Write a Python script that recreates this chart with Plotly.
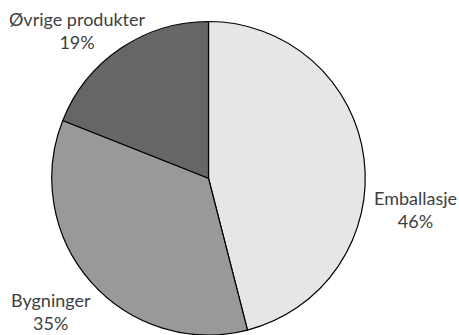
import plotly.graph_objects as go

# Share of consumption by product segment
categories = ["Emballasje", "Bygninger", "Øvrige produkter"]
shares = [46, 35, 19]
colors = ["#e6e6e6", "#999999", "#666666"]

W, H = 459, 335
cx, cy, r = 208.5, 178.5, 157

fig = go.Figure(go.Pie(
    labels=categories,
    values=shares,
    sort=False,
    direction="clockwise",
    rotation=0,
    textinfo="none",
    hoverinfo="label+percent",
    marker=dict(colors=colors, line=dict(color="#000000", width=1.2)),
    domain=dict(x=[(cx - r) / W, (cx + r) / W],
                y=[max(0, (H - cy - r) / H), min(1, (H - cy + r) / H)]),
    showlegend=False,
))

# label anchor points (pixel positions) for each category
label_pos = [(415.5, 209), (51, 311), (77.5, 30.5)]
for name, val, (px, py) in zip(categories, shares, label_pos):
    fig.add_annotation(
        x=px / W, y=1 - py / H, xref="paper", yref="paper",
        text=f"{name}<br>{val}%", showarrow=False,
        xanchor="center", yanchor="middle", align="center",
        font=dict(family="Lato", size=18, color="#404040"),
    )

fig.update_layout(
    width=W, height=H,
    margin=dict(l=0, r=0, t=0, b=0),
    paper_bgcolor="white", plot_bgcolor="white",
)
fig.write_html("out.html")
